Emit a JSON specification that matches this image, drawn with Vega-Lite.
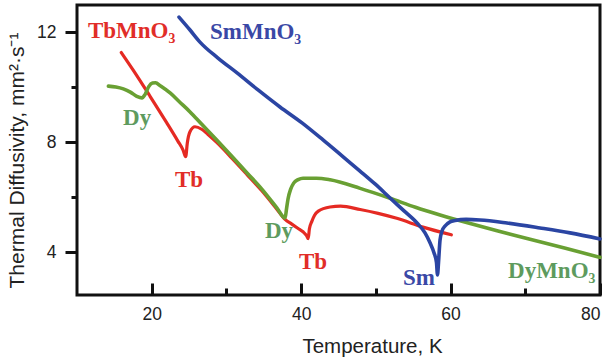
{
  "$schema": "https://vega.github.io/schema/vega-lite/v6.json",
  "width": 523,
  "height": 290,
  "autosize": {"type": "none"},
  "padding": {"left": 77, "top": 5, "right": 7, "bottom": 62},
  "background": "white",
  "config": {
    "view": {"stroke": "#111", "strokeWidth": 3},
    "axis": {"grid": false, "domain": false}
  },
  "datasets": {
    "tb": [
      {"T": 15.93, "D": 11.27}, {"T": 17.5, "D": 10.64}, {"T": 19.8, "D": 9.67}, {"T": 22.0, "D": 8.72},
      {"T": 23.5, "D": 8.05}, {"T": 24.2, "D": 7.72}, {"T": 24.55, "D": 7.48}, {"T": 24.76, "D": 7.97},
      {"T": 25.12, "D": 8.39}, {"T": 25.79, "D": 8.57}, {"T": 26.69, "D": 8.48}, {"T": 27.5, "D": 8.3},
      {"T": 28.7, "D": 8.0}, {"T": 30.72, "D": 7.43}, {"T": 32.73, "D": 6.84}, {"T": 34.74, "D": 6.24},
      {"T": 36.75, "D": 5.57}, {"T": 37.85, "D": 5.2}, {"T": 38.75, "D": 5.03}, {"T": 39.55, "D": 4.88},
      {"T": 40.25, "D": 4.75}, {"T": 40.75, "D": 4.6}, {"T": 40.95, "D": 4.5}, {"T": 41.1, "D": 4.85},
      {"T": 41.42, "D": 5.12}, {"T": 41.8, "D": 5.35}, {"T": 42.3, "D": 5.5}, {"T": 43.87, "D": 5.65},
      {"T": 45.28, "D": 5.68}, {"T": 47.9, "D": 5.56}, {"T": 50.3, "D": 5.42}, {"T": 52.8, "D": 5.24},
      {"T": 56.3, "D": 4.92}, {"T": 60.1, "D": 4.64}
    ],
    "dy": [
      {"T": 14.2, "D": 10.05}, {"T": 15.2, "D": 10.02}, {"T": 16.2, "D": 9.95}, {"T": 17.2, "D": 9.82},
      {"T": 18.0, "D": 9.68}, {"T": 18.7, "D": 9.62}, {"T": 19.1, "D": 9.74}, {"T": 19.6, "D": 10.03},
      {"T": 20.1, "D": 10.16}, {"T": 20.5, "D": 10.17}, {"T": 21.2, "D": 10.05}, {"T": 22.5, "D": 9.79},
      {"T": 23.7, "D": 9.48}, {"T": 25.1, "D": 9.12}, {"T": 26.7, "D": 8.66}, {"T": 28.7, "D": 8.09},
      {"T": 30.72, "D": 7.5}, {"T": 32.73, "D": 6.9}, {"T": 34.74, "D": 6.3}, {"T": 36.75, "D": 5.62},
      {"T": 37.85, "D": 5.25}, {"T": 38.05, "D": 5.6}, {"T": 38.25, "D": 5.95}, {"T": 38.6, "D": 6.3},
      {"T": 39.0, "D": 6.52}, {"T": 39.6, "D": 6.65}, {"T": 40.25, "D": 6.7}, {"T": 42.05, "D": 6.7},
      {"T": 43.87, "D": 6.64}, {"T": 47.9, "D": 6.33}, {"T": 51.9, "D": 5.97}, {"T": 55.3, "D": 5.64},
      {"T": 58.6, "D": 5.36}, {"T": 62.63, "D": 5.05}, {"T": 66.35, "D": 4.78}, {"T": 70.37, "D": 4.5},
      {"T": 75.38, "D": 4.15}, {"T": 80.0, "D": 3.82}
    ],
    "sm": [
      {"T": 23.65, "D": 12.56}, {"T": 25.13, "D": 12.09}, {"T": 26.46, "D": 11.65}, {"T": 28.87, "D": 11.07},
      {"T": 31.42, "D": 10.53}, {"T": 34.23, "D": 9.91}, {"T": 37.17, "D": 9.29}, {"T": 40.12, "D": 8.71},
      {"T": 42.93, "D": 8.09}, {"T": 45.47, "D": 7.51}, {"T": 47.88, "D": 6.96}, {"T": 49.89, "D": 6.49},
      {"T": 51.9, "D": 5.98}, {"T": 53.77, "D": 5.51}, {"T": 55.51, "D": 5.07}, {"T": 56.58, "D": 4.71},
      {"T": 57.25, "D": 4.35}, {"T": 57.79, "D": 3.98}, {"T": 58.12, "D": 3.62}, {"T": 58.25, "D": 3.18},
      {"T": 58.39, "D": 3.65}, {"T": 58.59, "D": 4.45}, {"T": 58.86, "D": 4.78}, {"T": 59.26, "D": 4.96},
      {"T": 59.93, "D": 5.11}, {"T": 60.6, "D": 5.16}, {"T": 62.07, "D": 5.2}, {"T": 63.94, "D": 5.18},
      {"T": 67.55, "D": 5.07}, {"T": 71.97, "D": 4.89}, {"T": 75.99, "D": 4.71}, {"T": 80.0, "D": 4.49}
    ],
    "labels": [
      {"label": "TbMnO₃", "T": 11.47, "D": 11.79, "series": "Tb"},
      {"label": "SmMnO₃", "T": 27.8, "D": 11.75, "series": "Sm"},
      {"label": "Dy", "T": 16.16, "D": 8.64, "series": "Dy"},
      {"label": "Tb", "T": 23.12, "D": 6.38, "series": "Tb"},
      {"label": "Dy", "T": 35.16, "D": 4.53, "series": "Dy"},
      {"label": "Tb", "T": 39.71, "D": 3.4, "series": "Tb"},
      {"label": "Sm", "T": 53.64, "D": 2.82, "series": "Sm"},
      {"label": "DyMnO₃", "T": 67.69, "D": 3.07, "series": "Dy"}
    ]
  },
  "layer": [
    {
      "data": {"name": "tb"},
      "mark": {"type": "line", "color": "#e52a23", "strokeWidth": 3.2, "strokeCap": "round", "interpolate": "monotone"},
      "encoding": {
        "x": {"field": "T", "type": "quantitative", "scale": {"domain": [10, 80], "nice": false, "zero": false},
          "axis": {"orient": "bottom", "values": [20, 40, 60, 80], "tickSize": -12, "tickWidth": 3, "tickColor": "#111",
            "labelFont": "Liberation Sans", "labelFontSize": 17.5, "labelColor": "#222", "labelPadding": 22,
            "title": "Temperature, K", "titleFont": "Liberation Sans", "titleFontSize": 20.5, "titleFontWeight": "normal",
            "titleColor": "#222", "titleX": 295, "titleY": 57, "titleBaseline": "alphabetic"}},
        "y": {"field": "D", "type": "quantitative", "scale": {"domain": [2.45, 13], "nice": false, "zero": false},
          "axis": {"orient": "left", "values": [4, 8, 12], "tickSize": 12, "tickWidth": 3, "tickColor": "#111",
            "labelFont": "Liberation Sans", "labelFontSize": 17.5, "labelColor": "#222", "labelPadding": 9,
            "title": "Thermal Diffusivity, mm²·s⁻¹", "titleFont": "Liberation Sans", "titleFontSize": 21, "titleFontWeight": "normal",
            "titleColor": "#222", "titleX": -54, "titleY": 155, "titleBaseline": "alphabetic"}}
      }
    },
    {
      "data": {"name": "dy"},
      "mark": {"type": "line", "color": "#69a033", "strokeWidth": 3.6, "strokeCap": "round", "interpolate": "monotone"},
      "encoding": {
        "x": {"field": "T", "type": "quantitative", "axis": null},
        "y": {"field": "D", "type": "quantitative", "axis": null}
      }
    },
    {
      "data": {"name": "sm"},
      "mark": {"type": "line", "color": "#2b45a3", "strokeWidth": 3.6, "strokeCap": "round", "interpolate": "monotone"},
      "encoding": {
        "x": {"field": "T", "type": "quantitative", "axis": null},
        "y": {"field": "D", "type": "quantitative", "axis": null}
      }
    },
    {
      "data": {"name": "labels"},
      "mark": {"type": "text", "align": "left", "baseline": "alphabetic", "font": "Liberation Serif", "fontWeight": "bold", "fontSize": 23},
      "encoding": {
        "x": {"field": "T", "type": "quantitative",
          "axis": {"orient": "bottom", "values": [30, 50, 70], "tickSize": -7, "tickWidth": 3, "tickColor": "#111", "labels": false, "title": null}},
        "y": {"field": "D", "type": "quantitative",
          "axis": {"orient": "left", "values": [6, 10], "tickSize": 6, "tickWidth": 3, "tickColor": "#111", "labels": false, "title": null}},
        "text": {"field": "label"},
        "color": {"field": "series", "type": "nominal", "scale": {"domain": ["Tb", "Dy", "Sm"], "range": ["#e12d28", "#5e9b5e", "#3a48a6"]}, "legend": null}
      }
    }
  ],
  "resolve": {"axis": {"x": "independent", "y": "independent"}}
}
